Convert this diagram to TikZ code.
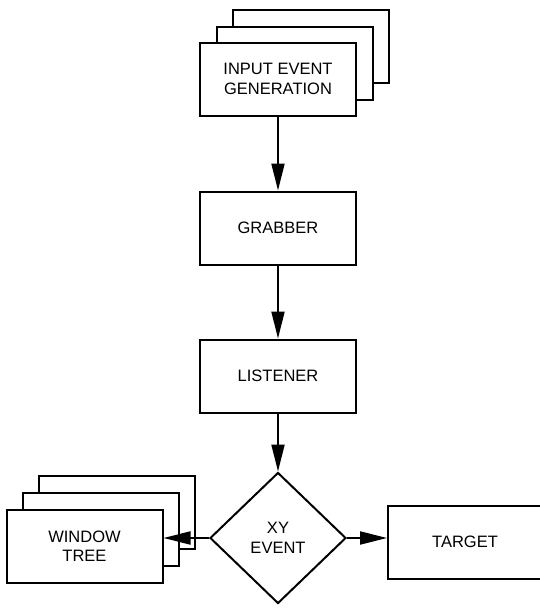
\documentclass[tikz,border=0pt]{standalone}
\usepackage{fontspec}
\setmainfont{Liberation Sans}
\usetikzlibrary{shapes.geometric,arrows.meta}
\begin{document}
\begin{tikzpicture}[x=1pt,y=-1pt,
  box/.style={draw,line width=2pt,fill=white,minimum width=156pt,minimum height=73pt,inner sep=0pt,align=center,font=\fontsize{16.5}{19.5}\selectfont},
  decision/.style={draw,diamond,line width=2pt,fill=white,minimum width=136pt,minimum height=131pt,inner sep=0pt,align=center,font=\fontsize{16.5}{19.5}\selectfont},
  flow/.style={line width=2pt,-{Triangle[length=27pt,width=13pt]}}]
\useasboundingbox (0,0) rectangle (540,608);
% input event generation stack
\node[box] (inC) at (311,46.5) {};
\node[box] (inB) at (295,63) {};
\node[box] (in) at (278,79) {INPUT EVENT\\GENERATION};
\node[box] (grab) at (278,228) {GRABBER};
\node[box] (lis) at (278,376) {LISTENER};
\node[decision] (xy) at (278,538) {XY\\EVENT};
% window tree stack
\node[box] (winC) at (117,512.5) {};
\node[box] (winB) at (101,529.5) {};
\node[box] (win) at (84.5,546) {WINDOW\\TREE};
\node[box,minimum width=154pt] (tgt) at (465,542) {TARGET};
% connectors
\draw[flow] (in.south) -- (grab.north);
\draw[flow] (grab.south) -- (lis.north);
\draw[flow] (lis.south) -- (xy.north);
\draw[flow] (xy.west) -- (xy.west -| win.east);
\draw[flow] (xy.east) -- (xy.east -| tgt.west);
\end{tikzpicture}
\end{document}
